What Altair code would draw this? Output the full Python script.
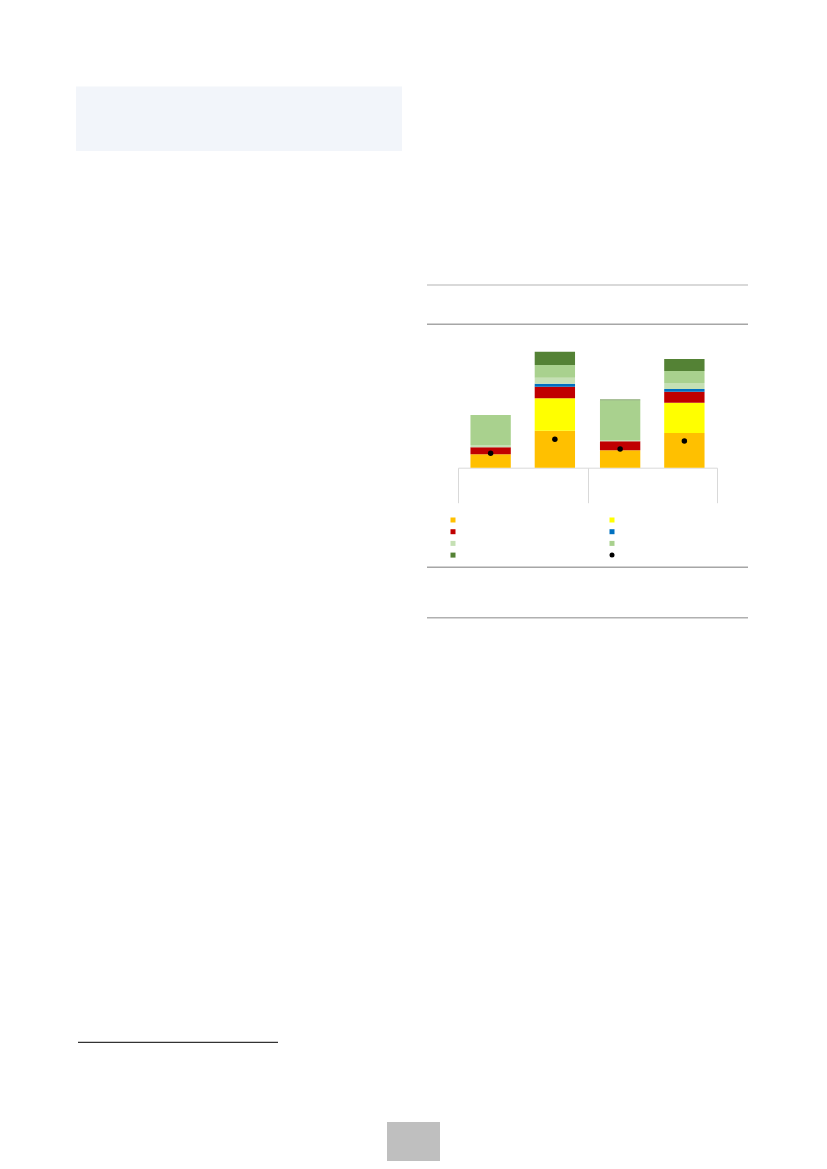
import altair as alt
import pandas as pd

# ---- data (arbitrary units) ----
groups = ["g1", "g1", "g2", "g2"]
subs = ["b1", "b2", "b1", "b2"]
series_names = ["s1", "s2", "s3", "s4", "s5", "s6", "s7", "s8"]
series_colors = ["#FFC000", "#FFFF00", "#C00000", "#0070C0",
                 "#C5E0B4", "#A9D18E", "#548235", "#000000"]
series_shapes = ["square"] * 7 + ["circle"]

s1_orange = [13.4, 37.0, 17.4, 34.7]
s2_yellow = [0.0, 32.4, 0.0, 30.3]
s3_red = [7.0, 11.6, 9.0, 11.0]
s4_blue = [0.0, 3.0, 0.0, 2.7]
s5_pale = [2.3, 6.0, 1.3, 6.0]
s6_green = [30.0, 12.7, 39.7, 12.0]
s7_dark = [0.0, 13.3, 0.7, 12.0]
s8_dots = [14.4, 28.4, 18.7, 26.7]

stack_series = [s1_orange, s2_yellow, s3_red, s4_blue, s5_pale, s6_green, s7_dark]

rows = []
for j, vals in enumerate(stack_series):
    for i in range(4):
        rows.append({"group": groups[i], "sub": subs[i], "series": series_names[j],
                     "value": vals[i], "ord": j})
bar_df = pd.DataFrame(rows)
dot_df = pd.DataFrame({"group": groups, "sub": subs, "series": ["s8"] * 4, "value": s8_dots})

legend = alt.Legend(orient="none", legendX=442.5, legendY=509.5, columns=2,
                    direction="horizontal",
                    title=None, labelExpr="''", labelFontSize=1, labelOffset=0,
                    labelOpacity=0, symbolSize=25, symbolStrokeWidth=0,
                    columnPadding=154, rowPadding=6.7, padding=0)

xscale = alt.Scale(domain=["g1", "g2"], range=[450, 709], paddingInner=0, paddingOuter=0)
xaxis = alt.Axis(labels=False, title=None, domainColor="#d9d9d9", tickColor="#d9d9d9",
                 tickSize=35, tickBand="extent", domainWidth=1, tickWidth=1,
                 offset=-693.3, grid=False)
xoff = alt.XOffset("sub:N", scale=alt.Scale(domain=["b1", "b2"], paddingInner=0.372, paddingOuter=0.194))
yscale = alt.Scale(domain=[0, 120], range=[459.7, 339.7], nice=False, zero=True)
cscale = alt.Scale(domain=series_names, range=series_colors)
sscale = alt.Scale(domain=series_names, range=series_shapes)

bars_layer = alt.Chart(bar_df).mark_bar(opacity=1).encode(
    x=alt.X("group:N", scale=xscale, axis=xaxis),
    xOffset=xoff,
    y=alt.Y("value:Q", stack="zero", scale=yscale, axis=None),
    color=alt.Color("series:N", scale=cscale, legend=legend),
    order=alt.Order("ord:Q"),
)

dots_layer = alt.Chart(dot_df).mark_point(filled=True, size=30, opacity=1).encode(
    x=alt.X("group:N", scale=xscale, axis=xaxis),
    xOffset=xoff,
    y=alt.Y("value:Q", stack=None, scale=yscale, axis=None),
    color=alt.Color("series:N", scale=cscale, legend=legend),
    shape=alt.Shape("series:N", scale=sscale, legend=legend),
)

one = pd.DataFrame({"k": [0]})


def rect(x, x2, y, y2, color):
    return alt.Chart(one).mark_rect(color=color).encode(
        x=alt.value(x), x2=alt.value(x2), y=alt.value(y), y2=alt.value(y2))


def hline(x, x2, y, color, w):
    return alt.Chart(one).mark_rule(color=color, strokeWidth=w).encode(
        x=alt.value(x), x2=alt.value(x2), y=alt.value(y))


decor = [
    rect(68, 394, 78.5, 143, "#f2f5fa"),
    hline(419, 740, 277, "#d9d9d9", 2),
    hline(419, 740, 316.3, "#a6a6a6", 1.5),
    hline(419, 740, 559.3, "#a6a6a6", 1.5),
    hline(419, 740, 609.7, "#b0b0b0", 1.5),
    hline(70, 270, 1034.3, "#000000", 1),
    rect(379, 432, 1114, 1153, "#bfbfbf"),
]

chart = alt.layer(*decor, bars_layer, dots_layer).properties(
    width=811, height=1153, autosize=alt.AutoSizeParams(type="none"), padding=0
).configure_view(stroke=None)

chart.save("out.html", embed_options={"renderer": "svg", "actions": False})
